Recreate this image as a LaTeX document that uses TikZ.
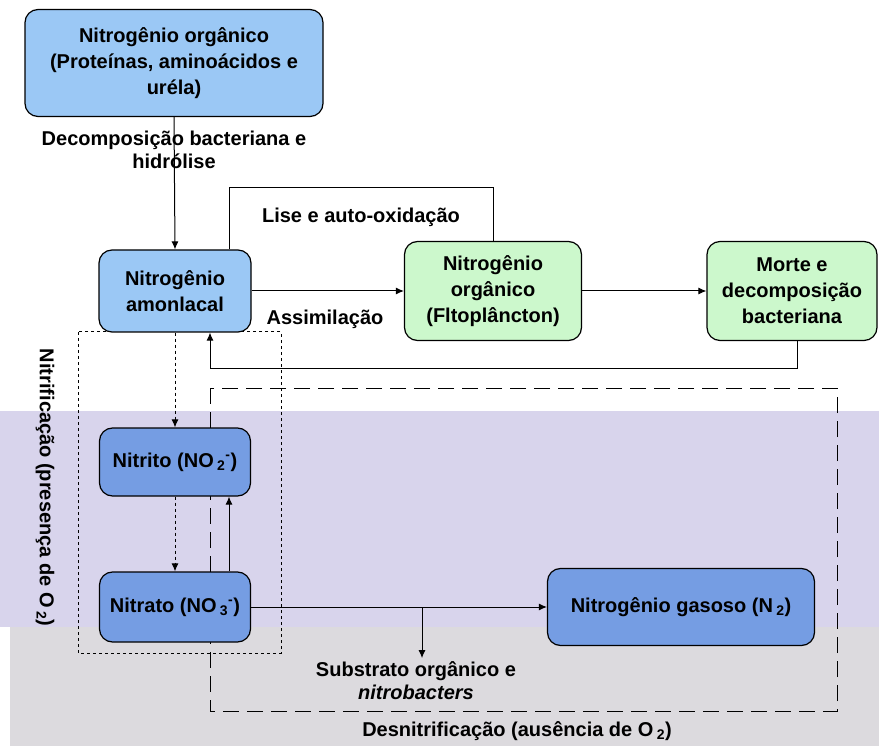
\documentclass[tikz,border=0pt]{standalone}
\usepackage{fontspec}
\setmainfont{Liberation Sans}
\usetikzlibrary{arrows.meta}
\definecolor{topblue}{RGB}{155,200,245}
\definecolor{paleGreen}{RGB}{204,248,204}
\definecolor{midblue}{RGB}{117,157,227}
\definecolor{lavband}{RGB}{216,212,236}
\definecolor{grayband}{RGB}{220,218,222}
\begin{document}
\begin{tikzpicture}[x=1pt, y=-1pt, line width=1pt,
  box/.style={draw, line width=1.2pt, rounded corners=13pt, align=center, inner sep=0pt,
    font=\bfseries\fontsize{20}{26}\selectfont},
  lbl/.style={align=center, font=\bfseries\fontsize{20}{23}\selectfont},
  dots/.style={dash pattern=on 3pt off 3pt},
  longdash/.style={dash pattern=on 16pt off 8pt},
  >={Latex[length=8pt,width=7pt]}]
\useasboundingbox (0,0) rectangle (879,746);

% bands
\fill[lavband] (0,411) rectangle (879,627);
\fill[grayband] (10,627) rectangle (879,746);

% dashed frames
\draw[dots] (78,332) rectangle (281,653);
\draw[longdash] (210,388) rectangle (837,711);

\node[box, fill=topblue, minimum width=298pt, minimum height=107pt] (orgN) at (174,63)
  {Nitrogênio orgânico\\(Proteínas, aminoácidos e\\uréla)};
\node[box, fill=topblue, minimum width=152pt, minimum height=82pt] (amon) at (175,291)
  {Nitrogênio\\amonlacal};
\node[box, fill=paleGreen, minimum width=177pt, minimum height=99pt] (fito) at (493,291)
  {Nitrogênio\\orgânico\\(Fltoplâncton)};
\node[box, fill=paleGreen, minimum width=170pt, minimum height=99pt] (morte) at (792,291)
  {Morte e\\decomposição\\bacteriana};
\node[box, fill=midblue, minimum width=151pt, minimum height=68pt] (nitrito) at (175,462)
  {Nitrito (NO\,\textsubscript{2}\textsuperscript{-})};
\node[box, fill=midblue, minimum width=151pt, minimum height=70pt] (nitrato) at (175,607)
  {Nitrato (NO\,\textsubscript{3}\textsuperscript{-})};
\node[box, fill=midblue, minimum width=267pt, minimum height=77pt] (gas) at (681,607)
  {Nitrogênio gasoso (N\,\textsubscript{2})};

% labels
\node[lbl] (decomp) at (174,150) {Decomposição bacteriana e\\hidrólise};
\node[lbl] (lise) at (361,217) {Lise e auto-oxidação};
\node[lbl] (assim) at (325,319) {Assimilação};
\node[lbl] (subst) at (416,681) {Substrato orgânico e\\\textit{nitrobacters}};
\node[lbl] (desn) at (517,731) {Desnitrificação (ausência de O\,\textsubscript{2})};
\node[lbl, rotate=-90, anchor=west] (nitrif) at (45,345) {Nitrificação (presença de O\,\textsubscript{2})};

\coordinate (liseTop) at (229,188);
\coordinate (retCorner) at (797,368);
\coordinate (branch) at (422,607);

\draw[->] (orgN.south) -- (amon.north);
\draw ([xshift=54pt]amon.north) -- (liseTop) -| (fito.north);
\draw[->] (amon.east) -- (amon.east -| fito.west);
\draw[->] (fito.east) -- (fito.east -| morte.west);
\draw[->] (morte.south -| retCorner) -- (retCorner) -| ([xshift=35pt]amon.south);
\draw[->, dots] (amon.south) -- (nitrito.north);
\draw[->, dots] (nitrito.south) -- (nitrato.north);
\draw[->] ([xshift=54pt]nitrato.north) -- ([xshift=54pt]nitrito.south);
\draw[->] (nitrato.east) -- (gas.west);
\draw[->] (branch) -- (branch |- subst.north);

\end{tikzpicture}
\end{document}
